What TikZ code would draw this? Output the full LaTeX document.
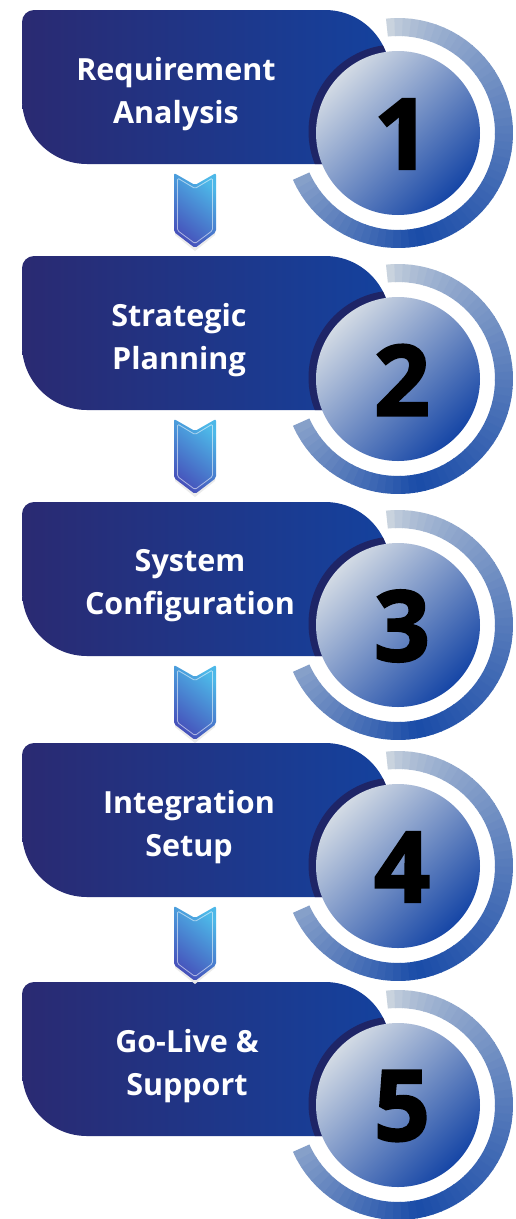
\documentclass[tikz,border=0pt]{standalone}
\usepackage{fontspec}
\setmainfont{Open Sans}
\newfontfamily\numfont{Open Sans}[BoldFeatures={FakeBold=2.2}]
\definecolor{banL}{HTML}{2A2A72}
\definecolor{banR}{HTML}{14429E}
\definecolor{rim}{HTML}{1E2567}
\definecolor{cirL}{HTML}{D2DAE4}
\definecolor{cirD}{HTML}{1646A6}
\definecolor{ringL}{HTML}{C9D3DE}
\definecolor{ringD}{HTML}{1A4CA8}
\definecolor{arrL}{HTML}{4DB8E8}
\definecolor{arrD}{HTML}{4650BA}
\tikzset{
  steptext/.style={text=white, font=\bfseries\fontsize{30.5}{43}\selectfont, align=center, inner sep=0pt},
  numtext/.style={text=black, font=\numfont\bfseries\fontsize{98}{98}\selectfont, inner sep=0pt},
  bannershade/.style={left color=banL, right color=banR},
  circleshade/.style={top color=cirL, bottom color=cirD, shading angle=45},
  arrowshade/.style={top color=arrL, bottom color=arrD, shading angle=-40},
  arrowline/.style={draw=white, draw opacity=0.55, line width=0.8pt, line join=round}
}
\begin{document}
\begin{tikzpicture}[x=1pt,y=1pt]
\useasboundingbox (0,0) rectangle (515,-1219);
\fill[white] (0,0) rectangle (515,-1219);
\foreach \T/\k/\txt/\tx in {10/1/{Requirement\\Analysis}/176,
                             256/2/{Strategic\\Planning}/179,
                             502/3/{System\\Configuration}/190,
                             743/4/{Integration\\Setup}/189,
                             982/5/{Go-Live \&\\Support}/187}{
  \begin{scope}[shift={(0,-\T)}]
    % outer ring, drawn in small segments for a gradient along the arc
    \begin{scope}[shift={(398,-123)}]
      \foreach \j in {0,...,59}{
        \pgfmathsetmacro\aA{96-\j*251.5/60}
        \pgfmathsetmacro\aB{\aA-251.5/60-0.5}
        \pgfmathsetmacro\tq{\j/59}
        \pgfmathsetmacro\p{\tq<0.7 ? 100*(\tq/0.7)^0.7 : 100-62*(\tq-0.7)/0.3}
        \fill[ringD!\p!ringL] (\aA:115) arc[start angle=\aA,end angle=\aB,radius=115]
          -- (\aB:97) arc[start angle=\aB,end angle=\aA,radius=97] -- cycle;
      }
    \end{scope}
    % banner
    \shade[bannershade] (22,-89) -- (22,-12) arc[start angle=180,end angle=90,radius=12]
      -- (325,0) arc[start angle=90,end angle=0,radius=65] -- (390,-154)
      -- (87,-154) arc[start angle=270,end angle=180,radius=65] -- cycle;
    % dark rim of the circle where it lies on the banner
    \begin{scope}
      \clip (22,-89) -- (22,-12) arc[start angle=180,end angle=90,radius=12]
        -- (325,0) arc[start angle=90,end angle=0,radius=65] -- (390,-154)
        -- (87,-154) arc[start angle=270,end angle=180,radius=65] -- cycle;
      \fill[rim] (395.5,-121.5) circle (87);
    \end{scope}
    % number disc
    \shade[circleshade] (398,-123) circle (82);
    \node[steptext] (t\k) at (\tx,-84) {\txt};
    \node[numtext] (n\k) at (402,-124) {\k};
  \end{scope}
}
% chevrons between the steps
\foreach \T/\k in {10/1,256/2,502/3,743/4}{
  \begin{scope}[shift={(0,-\T)}]
    \fill[black!8] (175,-166) -- (195,-178) -- (215,-166) -- (215,-225) -- (195,-241) -- (175,-225) -- cycle;
    \shade[arrowshade, rounded corners=2pt] (174,-163) -- (195,-175) -- (216,-163)
      -- (216,-222) -- (195,-238) -- (174,-222) -- cycle;
    \draw[arrowline, rounded corners=1.5pt] (177.5,-168) -- (195,-178.5) -- (212.5,-168)
      -- (212.5,-220.5) -- (195,-233.5) -- (177.5,-220.5) -- cycle;
    \coordinate (c\k) at (195,-200);
  \end{scope}
}
\end{tikzpicture}
\end{document}
